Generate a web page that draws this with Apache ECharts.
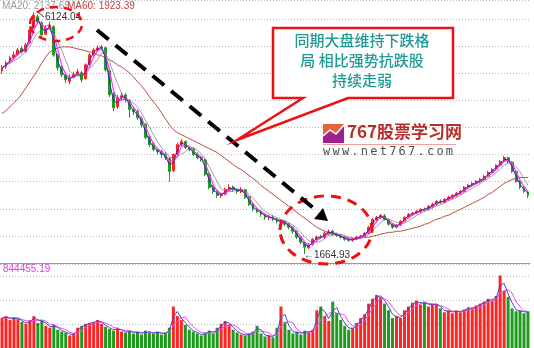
<!DOCTYPE html>
<html><head><meta charset="utf-8">
<script src="https://cdn.jsdelivr.net/npm/echarts@6/dist/echarts.min.js"></script>
<style>html,body{margin:0;padding:0;background:#fff}#c{width:534px;height:348px}</style>
</head><body><div id="c"></div>
<script>
// [open, close, low, high]
const ohlc = [
[5040,5099,4990,5150],[5120,5191,5080,5230],[5230,5283,5180,5320],[5300,5338,5250,5400],[5350,5430,5320,5470],
[5460,5393,5360,5500],[5400,5522,5380,5560],[5560,5798,5540,5830],[5850,6073,5820,6124.04],[6040,5945,5900,6080],
[5930,5706,5650,5960],[5720,5834,5700,5880],[5850,5890,5800,5950],[5860,5338,5300,5880],[5330,5099,5050,5360],
[5120,4971,4930,5150],[4960,4879,4820,5000],[4850,4915,4800,4980],[4930,4971,4900,5030],[4990,5026,4950,5080],
[5010,4879,4830,5040],[4900,5154,4880,5180],[5160,5338,5140,5370],[5350,5430,5320,5460],[5420,5467,5390,5510],
[5470,5485,5420,5522],[5470,5062,5030,5490],[5050,4603,4560,5070],[4620,4364,4300,4650],[4380,4548,4340,4600],
[4560,4585,4500,4640],[4600,4511,4460,4630],[4500,4327,4180,4520],[4330,4290,4230,4380],[4300,4180,4140,4330],
[4170,4051,4000,4200],[4060,3813,3780,4080],[3830,3684,3640,3850],[3700,3592,3560,3730],[3580,3555,3500,3620],
[3560,3500,3440,3590],[3500,3445,3400,3540],[3430,3188,3000,3450],[3200,3500,3180,3520],[3500,3684,3480,3720],
[3690,3739,3650,3786],[3740,3629,3600,3760],[3620,3592,3560,3660],[3600,3500,3470,3630],[3510,3445,3410,3540],
[3450,3408,3370,3480],[3400,3133,3100,3420],[3140,2894,2860,3160],[2900,2820,2780,2940],[2830,2747,2700,2860],
[2740,2765,2700,2800],[2770,2857,2750,2890],[2860,2894,2830,2950],[2900,2857,2820,2930],[2860,2820,2780,2880],
[2810,2857,2790,2900],[2850,2710,2680,2870],[2720,2581,2550,2740],[2590,2489,2450,2610],[2490,2452,2420,2520],
[2460,2397,2350,2480],[2400,2342,2300,2420],[2340,2342,2290,2390],[2350,2305,2270,2380],[2310,2269,2230,2330],
[2260,2269,2220,2300],[2270,2214,2180,2290],[2220,2159,2120,2240],[2160,2085,2040,2180],[2090,1975,1940,2100],
[1980,1883,1840,2000],[1880,1791,1664.93,1900],[1780,1828,1760,1870],[1840,1938,1820,1960],[1940,1975,1900,2010],
[1980,1975,1940,2020],[1970,2048,1950,2080],[2050,2085,2020,2120],[2090,2030,2000,2110],[2030,2011,1980,2060],
[2010,1975,1950,2030],[1980,1938,1910,2000],[1940,1920,1890,1960],[1920,1938,1890,1970],[1940,1975,1920,2000],
[1980,1993,1950,2020],[1990,2048,1970,2070],[2050,2159,2030,2180],[2160,2305,2140,2330],[2300,2342,2270,2370],
[2340,2379,2310,2402],[2370,2305,2280,2400],[2300,2214,2190,2320],[2220,2159,2130,2240],[2160,2195,2140,2220],
[2200,2269,2180,2290],[2270,2342,2250,2360],[2340,2397,2320,2420],[2400,2416,2370,2440],[2420,2452,2400,2480],
[2450,2489,2420,2510],[2490,2489,2450,2520],[2490,2544,2470,2570],[2540,2581,2510,2610],[2580,2636,2560,2660],
[2640,2618,2590,2670],[2620,2673,2600,2700],[2670,2710,2650,2740],[2710,2747,2680,2770],[2750,2783,2720,2810],
[2790,2820,2760,2850],[2820,2894,2800,2920],[2890,2930,2860,2960],[2930,2967,2900,2990],[2970,3004,2940,3030],
[3000,3041,2970,3070],[3040,3096,3010,3120],[3100,3169,3080,3200],[3170,3224,3150,3250],[3230,3298,3200,3320],
[3300,3371,3280,3400],[3380,3445,3350,3478],[3440,3371,3340,3460],[3360,3188,3160,3380],[3190,3004,2980,3200],
[3010,2894,2860,3030],[2900,2820,2790,2920],[2810,2747,2700,2830]
];
const ma60 = [
4254,4309,4382,4456,4529,4621,4732,4842,4952,5062,
5191,5301,5393,5430,5467,5485,5485,5485,5467,5448,
5430,5412,5393,5375,5338,5320,5283,5246,5209,5154,
5118,5062,5007,4934,4842,4768,4676,4566,4474,4382,
4272,4162,4051,3960,3904,3868,3831,3794,3757,3721,
3684,3647,3610,3574,3537,3482,3427,3371,3316,3261,
3224,3169,3114,3059,3004,2930,2875,2820,2765,2710,
2655,2599,2544,2489,2434,2379,2324,2269,2213,2158,
2122,2085,2048,2030,2011,1993,1975,1975,1956,1956,
1956,1975,1975,1993,2011,2030,2048,2066,2066,2085,
2085,2103,2122,2140,2158,2177,2213,2232,2269,2305,
2324,2361,2379,2416,2452,2489,2526,2563,2599,2636,
2673,2710,2765,2802,2857,2912,2967,3004,3041,3059,
3077,3077,3077
];
// volume, thousands
const volume = [
301,320,281,311,291,262,243,281,320,252,
281,223,204,233,184,165,155,126,146,204,
223,243,252,262,281,243,214,194,175,204,
165,155,175,146,165,136,175,155,146,165,
136,155,204,417,320,281,233,184,165,146,
126,155,175,146,204,243,272,233,184,155,
136,126,146,165,223,146,116,126,107,204,
417,262,184,146,165,136,175,155,184,379,
417,320,272,466,349,281,223,184,204,252,
301,340,446,495,534,514,446,379,301,320,
301,379,417,456,476,437,466,417,446,437,
398,359,379,349,379,359,388,408,398,427,
446,466,495,476,524,728,573,514,398,369,
379,349,369
];
const volumeMax = 844.45519;
const volumeTopLabel = '844455.19';
const legendMA20 = 'MA20: 2137.69';
const legendMA60 = 'MA60: 1923.39';
const peakLabel = '6124.04';
const troughLabel = '1664.93';
const noteLines = ['同期大盘维持下跌格', '局 相比强势抗跌股', '持续走弱'];
const siteName = '767股票学习网';
const siteUrl = 'www.net767.com';
const categories = ohlc.map((d, i) => 'D' + (i + 1));
const closes = ohlc.map(d => d[1]);

function movingAverage(arr, n) {
  return arr.map((v, i) => {
    const s = Math.max(0, i - n + 1);
    let sum = 0;
    for (let k = s; k <= i; k++) sum += arr[k];
    return +(sum / (i - s + 1)).toFixed(2);
  });
}

const UP = '#ff2424', DOWN = '#1e9a1e';
const chart = echarts.init(document.getElementById('c'));
const gridLine = { show: true, lineStyle: { color: '#b8b8b8', type: [1, 2], width: 1 } };

const urlChars = siteUrl.split('').map((ch, i) => ({
  type: 'text', left: 323 + i * 9.45, top: 146, z: 100,
  style: { text: ch, fill: '#505050', font: '12px "DejaVu Sans Mono"' }
}));

chart.setOption({
  animation: false,
  backgroundColor: '#ffffff',
  grid: [
    { left: 0, right: 4, top: 0, height: 263 },
    { left: 0, right: 4, top: 264, height: 87 }
  ],
  xAxis: [
    { type: 'category', gridIndex: 0, data: categories, boundaryGap: true,
      axisLine: { show: true, lineStyle: { color: '#9a9a9a' } }, axisTick: { show: false }, axisLabel: { show: false }, splitLine: { show: false } },
    { type: 'category', gridIndex: 1, data: categories, boundaryGap: true,
      axisLine: { show: false }, axisTick: { show: false }, axisLabel: { show: false }, splitLine: { show: false } }
  ],
  yAxis: [
    { type: 'value', gridIndex: 0, min: 1500, max: 6350, interval: 500, scale: false,
      axisLine: { show: false }, axisTick: { show: false }, axisLabel: { show: false }, splitLine: gridLine },
    { type: 'value', gridIndex: 1, min: 0, max: volumeMax, interval: 242,
      axisLine: { show: false }, axisTick: { show: false }, axisLabel: { show: false }, splitLine: gridLine }
  ],
  series: [
    { type: 'line', name: 'MA60', xAxisIndex: 0, yAxisIndex: 0, data: ma60, showSymbol: false,
      lineStyle: { color: '#b4523e', width: 1 }, z: 3 },
    { type: 'line', name: 'MA20', xAxisIndex: 0, yAxisIndex: 0, data: movingAverage(closes, 5), showSymbol: false,
      lineStyle: { color: '#a0a0a0', width: 1 }, z: 3 },
    { type: 'candlestick', xAxisIndex: 0, yAxisIndex: 0, data: ohlc, barWidth: 2.4,
      itemStyle: { color: UP, color0: DOWN, borderColor: UP, borderColor0: DOWN, borderWidth: 1 }, z: 4 },
    { type: 'line', name: 'MA10', xAxisIndex: 0, yAxisIndex: 0, data: movingAverage(closes, 3), showSymbol: false,
      lineStyle: { color: '#ff30ff', width: 1.2 }, z: 5 },
    { type: 'line', name: 'MA5', xAxisIndex: 0, yAxisIndex: 0, data: movingAverage(closes, 2), showSymbol: false,
      lineStyle: { color: '#3030a0', width: 1 }, z: 5 },
    { type: 'bar', xAxisIndex: 1, yAxisIndex: 1, data: volume, barWidth: 3,
      itemStyle: { color: p => (ohlc[p.dataIndex][1] >= ohlc[p.dataIndex][0] ? UP : DOWN) }, z: 3 },
    { type: 'line', xAxisIndex: 1, yAxisIndex: 1, data: movingAverage(volume, 4), showSymbol: false,
      lineStyle: { color: '#ff40ff', width: 1 }, z: 5 },
    { type: 'line', xAxisIndex: 1, yAxisIndex: 1, data: movingAverage(volume, 2), showSymbol: false,
      lineStyle: { color: '#4050c0', width: 1 }, z: 5 }
  ],
  graphic: [
    { type: 'text', left: 2, top: 1, z: 100, style: { text: legendMA20, fill: '#9a9a9a', font: '10px "Liberation Sans"' } },
    { type: 'text', left: 67, top: 1, z: 100, style: { text: legendMA60, fill: '#c83a3a', font: '10px "Liberation Sans"' } },
    { type: 'line', z: 100, shape: { x1: 39, y1: 13, x2: 44, y2: 17 }, style: { stroke: '#333', lineWidth: 1 } },
    { type: 'text', left: 45, top: 12, z: 100, style: { text: peakLabel, fill: '#333333', font: '10px "Liberation Sans"' } },
    { type: 'ellipse', z: 101, shape: { cx: 56, cy: 24, rx: 26, ry: 17 },
      style: { fill: 'none', stroke: '#ee1111', lineWidth: 2.5, lineDash: [8, 6] } },
    { type: 'text', left: 304, top: 250, z: 100, style: { text: '←' + troughLabel, fill: '#333333', font: '10px "Liberation Sans"' } },
    { type: 'ellipse', z: 101, shape: { cx: 326, cy: 230, rx: 46, ry: 34 },
      style: { fill: 'none', stroke: '#ee1111', lineWidth: 3, lineDash: [10, 7] } },
    { type: 'line', z: 102, shape: { x1: 97, y1: 30, x2: 317, y2: 211 },
      style: { stroke: '#000', lineWidth: 4, lineDash: [15, 9] } },
    { type: 'polygon', z: 102, shape: { points: [[328, 221], [314, 219], [323, 208]] }, style: { fill: '#000' } },
    { type: 'polygon', z: 103, shape: { points: [[273, 28], [453, 28], [453, 98], [348, 98], [237, 140], [303, 98], [273, 98]] },
      style: { fill: '#ffffff', stroke: '#ee1111', lineWidth: 2.5 } },
    ...noteLines.map((t, i) => ({
      type: 'text', z: 104, x: 362, y: 33 + i * 20,
      style: { text: t, fill: '#1f9b96', font: '500 15px "Noto Sans CJK SC"', textAlign: 'center' }
    })),
    { type: 'rect', z: 100, shape: { x: 323, y: 124, width: 21, height: 19 }, style: { fill: '#e86238' } },
    { type: 'polygon', z: 101, shape: { points: [[323, 143], [323, 136], [330, 130], [336, 134], [344, 125], [344, 143]] }, style: { fill: '#a0208e' } },
    { type: 'polyline', z: 102, shape: { points: [[323, 136], [330, 130], [336, 134], [344, 125]] }, style: { stroke: '#ffffff', lineWidth: 1.5, fill: 'none' } },
    { type: 'text', z: 100, left: 347, top: 123, style: { text: siteName, fill: '#b3302a', font: 'bold 17px "Noto Sans CJK SC"' } },
    { type: 'line', z: 99, shape: { x1: 323, y1: 144.5, x2: 456, y2: 144.5 }, style: { stroke: '#f0a0a0', lineWidth: 1 } },
    ...urlChars,
    { type: 'text', left: 3, top: 264, z: 100, style: { text: volumeTopLabel, fill: '#e040e0', font: '10px "Liberation Sans"' } }
  ]
});
</script>
</body></html>
